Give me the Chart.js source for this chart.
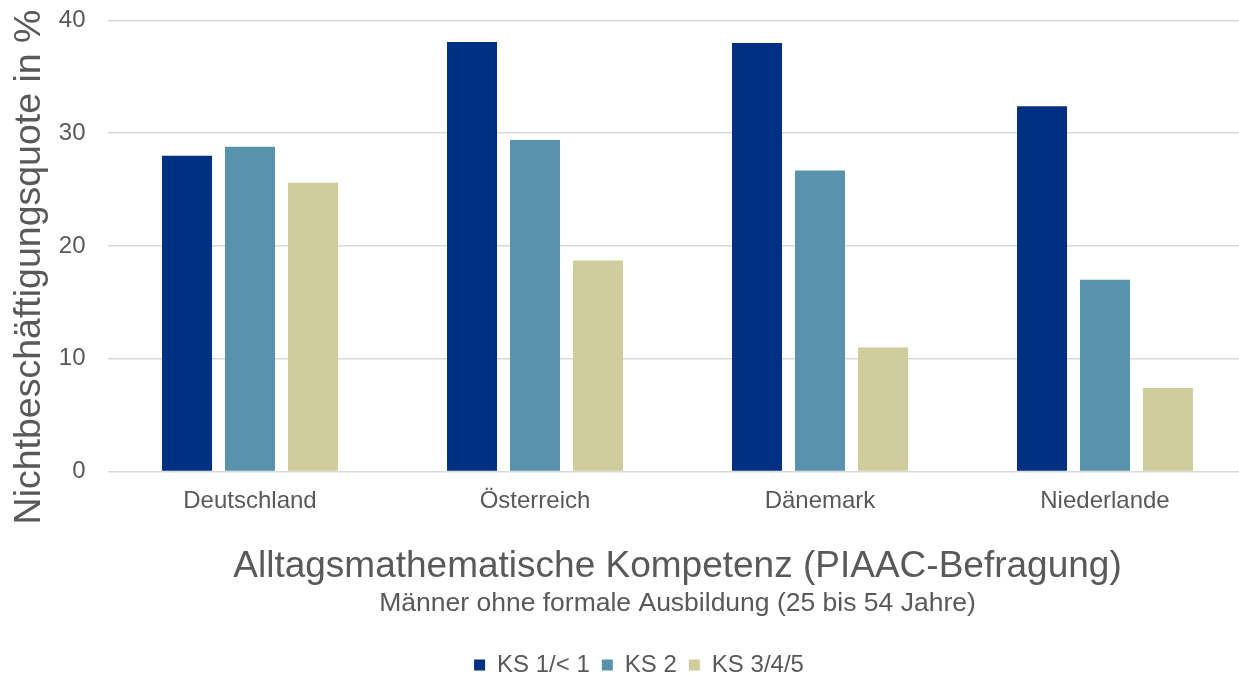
<!DOCTYPE html>
<html>
<head>
<meta charset="utf-8">
<script src="https://cdn.jsdelivr.net/npm/chart.js@4/dist/chart.umd.min.js"></script>
<style>
html,body{margin:0;padding:0;background:#fff;overflow:hidden;}
#wrap{width:1239px;height:675px;overflow:hidden;}
</style>
</head>
<body>
<div id="wrap"><canvas id="c" width="1250" height="687"></canvas></div>
<script>
const categories = ["Deutschland", "Österreich", "Dänemark", "Niederlande"];
const seriesNames = ["KS 1/< 1", "KS 2", "KS 3/4/5"];
const ks1 = [28.0, 38.1, 38.0, 32.4];
const ks2 = [28.8, 29.4, 26.7, 17.0];
const ks345 = [25.6, 18.7, 11.0, 7.4];
const yTicks = [0, 10, 20, 30, 40];
const yTitle = "Nichtbeschäftigungsquote in %";
const mainTitle = "Alltagsmathematische Kompetenz (PIAAC-Befragung)";
const subTitle = "Männer ohne formale Ausbildung (25 bis 54 Jahre)";

const colors = ["#003082", "#5892ad", "#cecd9b"];
const textColor = "#595959";
const fontFamily = "'Liberation Sans', Arial, sans-serif";

const yTitlePlugin = {
  id: 'yTitle',
  afterDraw(chart) {
    const ctx = chart.ctx;
    ctx.save();
    ctx.translate(30, 267);
    ctx.rotate(-Math.PI / 2);
    ctx.font = "37.5px " + fontFamily;
    ctx.fillStyle = textColor;
    ctx.textAlign = "center";
    ctx.textBaseline = "middle";
    ctx.fillText(yTitle, 0, 0);
    ctx.restore();
  }
};

const padLeft = 30.5;

new Chart(document.getElementById('c'), {
  type: 'bar',
  data: {
    labels: categories,
    datasets: [ks1, ks2, ks345].map((d, i) => ({
      label: seriesNames[i],
      data: d,
      backgroundColor: colors[i],
      borderWidth: 0,
      categoryPercentage: 0.663,
      barPercentage: 0.794
    }))
  },
  options: {
    responsive: false,
    animation: false,
    devicePixelRatio: 1,
    layout: { padding: { left: padLeft, right: 2.5, top: 20.5, bottom: 0 } },
    scales: {
      x: {
        grid: { display: false, drawTicks: false },
        border: { display: false },
        ticks: { color: textColor, font: { family: fontFamily, size: 24 }, padding: 15.3 }
      },
      y: {
        min: 0, max: 40,
        afterBuildTicks(scale) { scale.ticks = yTicks.map(v => ({ value: v })); },
        afterFit(scale) { scale.width = 107.5 - padLeft; scale.paddingTop = 0; scale.paddingBottom = 0; },
        grid: { color: "#d9d9d9", lineWidth: 1.5, drawTicks: false },
        border: { display: false },
        ticks: { color: textColor, font: { family: fontFamily, size: 24 }, padding: 22 }
      }
    },
    plugins: {
      legend: {
        position: 'bottom',
        weight: 3000,
        labels: {
          color: textColor,
          font: { family: fontFamily, size: 24 },
          boxWidth: 11, boxHeight: 11,
          padding: 12
        }
      },
      title: {
        display: true, text: mainTitle, position: 'bottom', weight: 100, fullSize: false,
        color: textColor, font: { family: fontFamily, size: 37, weight: 'normal' },
        padding: { top: 13.7, bottom: -1 }
      },
      subtitle: {
        display: true, text: subTitle, position: 'bottom', weight: 200, fullSize: false,
        color: textColor, font: { family: fontFamily, size: 26.5, weight: 'normal' },
        padding: { top: 0, bottom: 21.3 }
      },
      tooltip: { enabled: false }
    }
  },
  plugins: [yTitlePlugin]
});
</script>
</body>
</html>
